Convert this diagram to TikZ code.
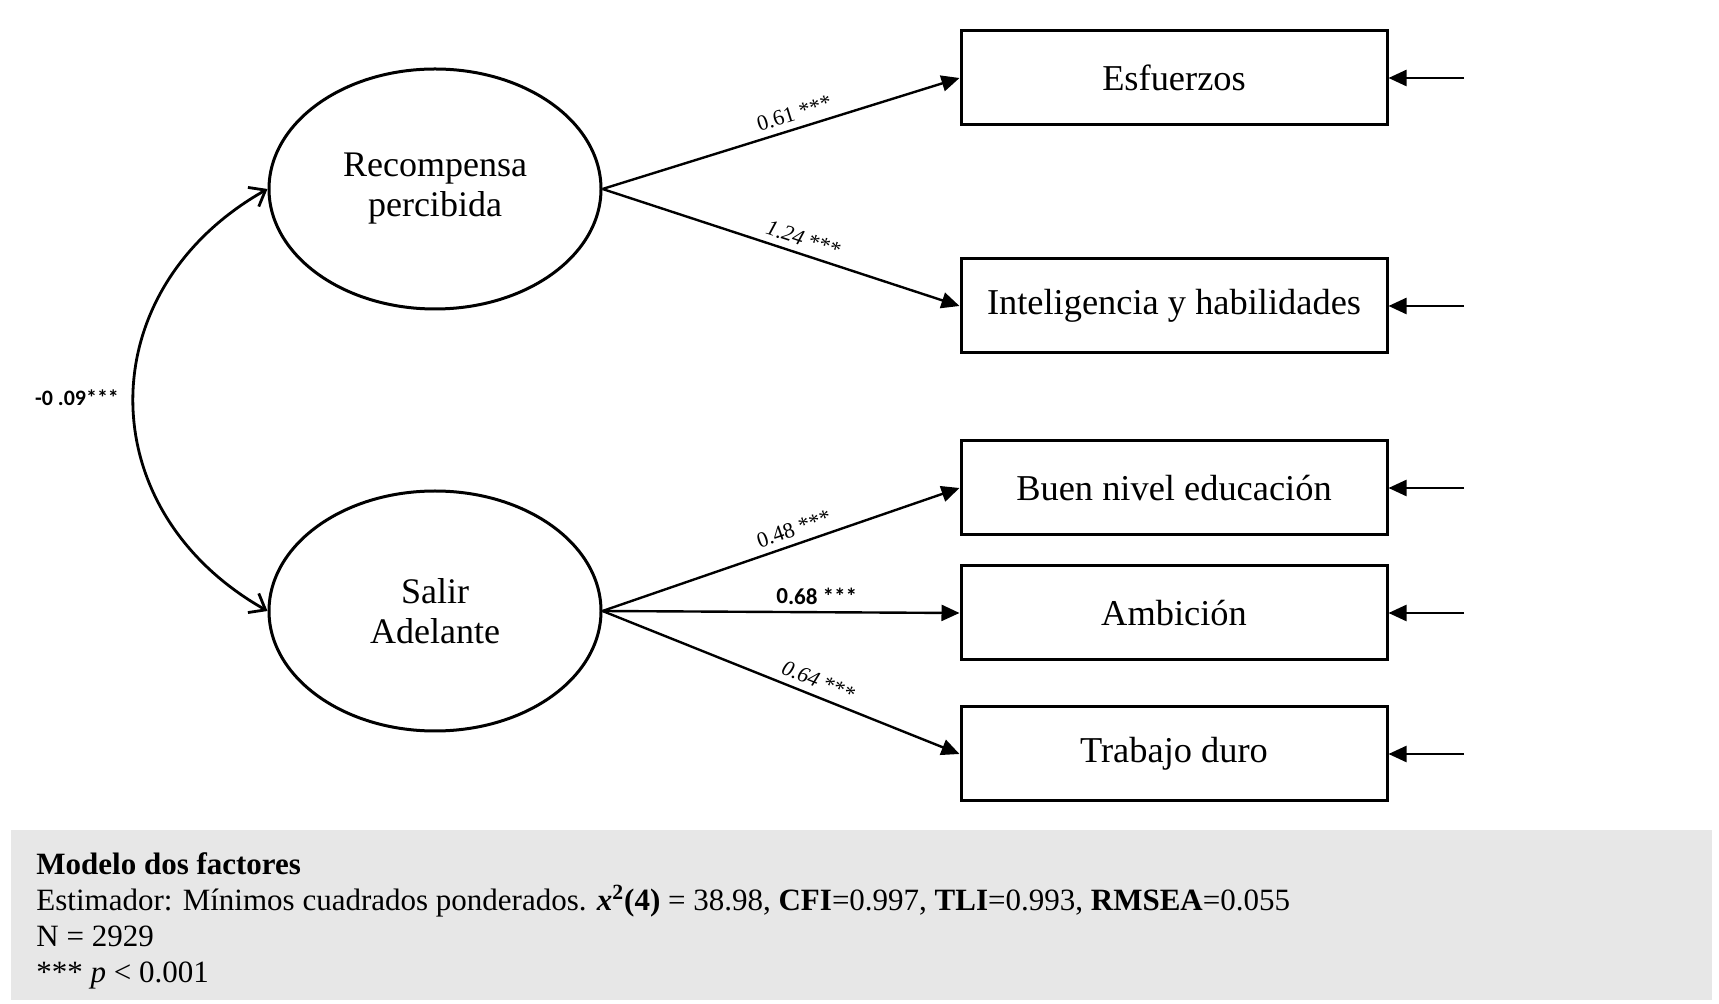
\documentclass[tikz,border=0pt]{standalone}
\usepackage{fontspec}
\setmainfont{Liberation Serif}
\newfontfamily\calfont{Carlito}
\usepackage{xcolor}
\usepackage{tikz}
\usetikzlibrary{positioning, arrows.meta, calc, shapes.geometric}
\definecolor{note-gray}{HTML}{E7E7E7}

\begin{document}
\begin{tikzpicture}[
    x=0.5pt, y=-0.5pt,
    latent/.style={draw, ellipse, line width=1.5pt, minimum width=166pt, minimum height=120pt,
        inner sep=0pt, align=center, font=\fontsize{18}{20}\selectfont},
    item/.style={draw, rectangle, line width=1.5pt, minimum width=213pt, minimum height=47pt,
        inner sep=0pt, font=\fontsize{18.2}{20}\selectfont},
    load/.style={line width=1.2pt, -{Triangle[length=9pt, width=8pt]}},
    errarrow/.style={line width=1.2pt, -{Triangle[length=9pt, width=8pt]}},
    cov/.style={line width=1.4pt, {Straight Barb[length=7pt, width=11pt]}-{Straight Barb[length=7pt, width=11pt]}},
    coef/.style={font=\fontsize{11}{13}\selectfont, sloped, above},
    footline/.style={anchor=base west, inner sep=0pt, font=\fontsize{15.5}{18}\selectfont},
]
    \useasboundingbox (0, 0) rectangle (1719, 1004);

    % Latent factors
    \node[latent] (rec) at (435, 189) {Recompensa\\percibida};
    \node[latent] (sal) at (435, 611) {Salir\\Adelante};

    % Indicators
    \node[item] (esf) at (1174, 78) {Esfuerzos};
    \node[item] (intel) at (1174, 306) {Inteligencia y habilidades};
    \node[item] (edu) at (1174, 488) {Buen nivel educación};
    \node[item] (amb) at (1174, 613) {Ambición};
    \node[item] (trab) at (1174, 754) {Trabajo duro};

    % Error terms
    \coordinate (e1) at (1464, 78);
    \coordinate (e2) at (1464, 306);
    \coordinate (e3) at (1464, 488);
    \coordinate (e4) at (1464, 613);
    \coordinate (e5) at (1464, 754);
    \foreach \i/\n in {e1/esf, e2/intel, e3/edu, e4/amb, e5/trab}
        \draw[errarrow] (\i) -- (\n.east);

    % Loadings
    \draw[load] (rec.east) -- node[coef, pos=0.55] {0.61 ***} (esf.west);
    \draw[load] (rec.east) -- node[coef, pos=0.55] {\textit{1.24} ***} (intel.west);
    \draw[load] (sal.east) -- node[coef, pos=0.55] {0.48 ***} (edu.west);
    \draw[load] (sal.east) -- node[coef, pos=0.6, font=\calfont\bfseries\fontsize{11.5}{13}\selectfont] {0.68 ***} (amb.west);
    \draw[load] (sal.east) -- node[coef, pos=0.59] {\textit{0.64} ***} (trab.west);

    % Covariance
    \draw[cov] (rec.west) .. controls (89, 290) and (89, 510) .. (sal.west);
    \node[font=\calfont\bfseries\fontsize{11}{13}\selectfont] (covlab) at (77, 398) {-0 .09***};

    % Note
    \fill[note-gray] (11, 830) rectangle (1712, 1000);
    \node[footline, font=\bfseries\fontsize{15.5}{18}\selectfont] (n1) at (36, 874) {Modelo dos factores};
    \node[footline] (n2) at (36, 910) {Estimador: Mínimos cuadrados ponderados. \textbf{\textit{x}\textsuperscript{2}(4)} = 38.98, \textbf{CFI}=0.997, \textbf{TLI}=0.993, \textbf{RMSEA}=0.055};
    \node[footline] (n3) at (36, 946) {N = 2929};
    \node[footline] (n4) at (36, 982) {*** \textit{p} < 0.001};
\end{tikzpicture}
\end{document}
